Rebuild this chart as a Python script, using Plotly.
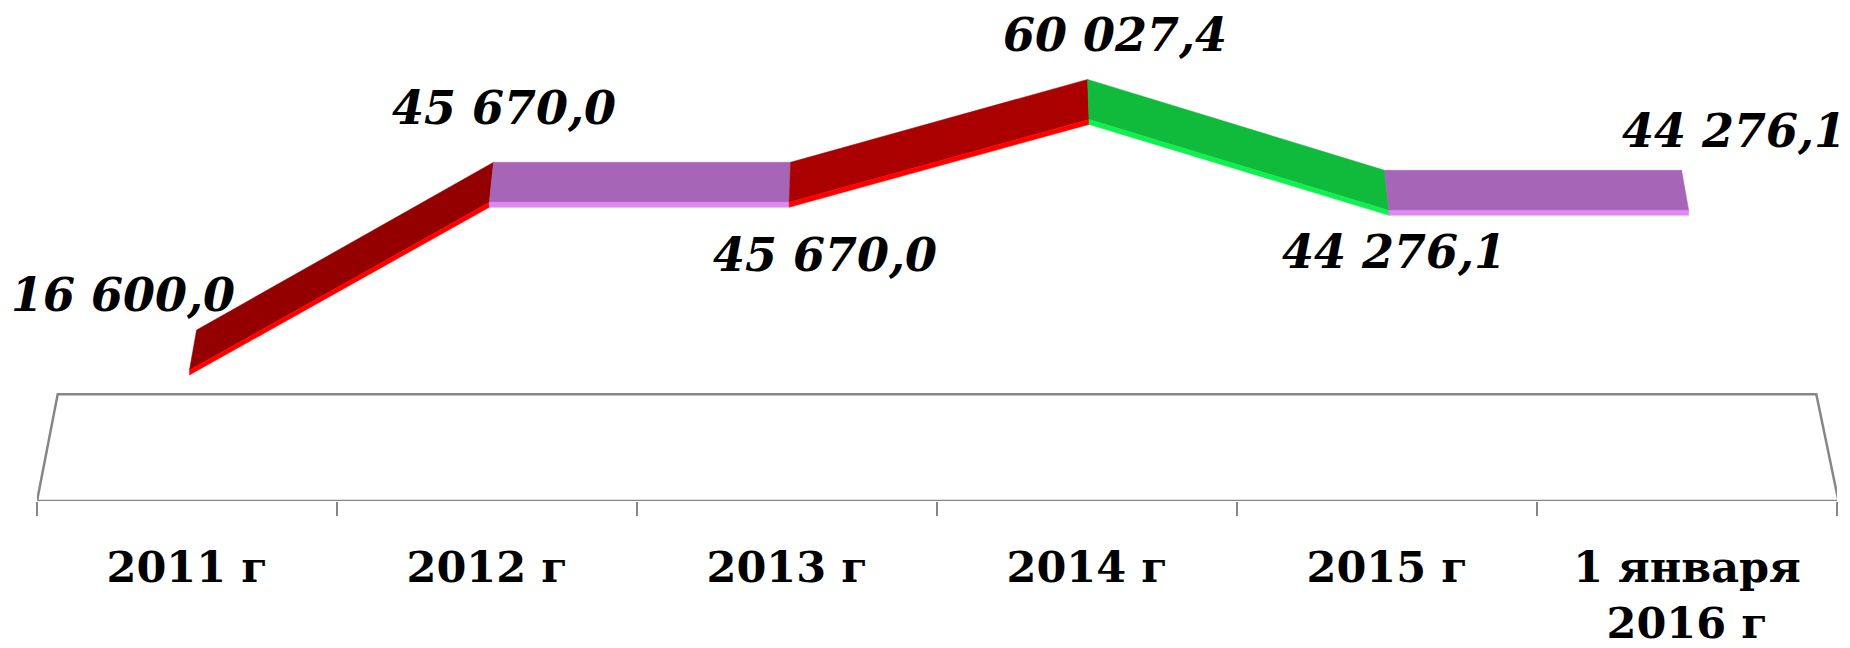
import plotly.graph_objects as go

categories = ["2011 г", "2012 г", "2013 г", "2014 г", "2015 г", "1 января<br>2016 г"]
values = [16600.0, 45670.0, 45670.0, 60027.4, 44276.1, 44276.1]
face_colors = ["#940000", "#A665B7", "#AB0000", "#10BB3C", "#A665B7"]
edge_colors = ["#FF0000", "#DF87F3", "#FF0000", "#12EF50", "#DF87F3"]
label_shifts = [(-64, 80), (17, 99), (38, -48), (28, 89), (7, -37), (47, 84)]

DEPTH = 7800
EDGE = 850
Y_RANGE = [-5237, 80203]
FLOOR_BACK = 13255
CENTER = 3.0
GREY = "#868686"
FONT = "DejaVu Serif"


def px_front(c):
    return CENTER + 0.007 + (c + 0.5 - CENTER) * 0.9995


def px_back(c):
    return CENTER + 0.007 + (c + 0.5 - CENTER) * 0.990


fig = go.Figure()

fig.add_trace(go.Scatter(
    x=[0, CENTER + (0 - CENTER) * 0.977, CENTER + (6 - CENTER) * 0.977, 6.005, 0],
    y=[Y_RANGE[0], FLOOR_BACK, FLOOR_BACK, Y_RANGE[0], Y_RANGE[0]],
    mode="lines", line=dict(color=GREY, width=2.5), cliponaxis=False,
    hoverinfo="skip", showlegend=False,
))

for i in range(len(values) - 1):
    a, b = values[i], values[i + 1]
    fx0, fx1 = px_front(i), px_front(i + 1)
    bx0, bx1 = px_back(i), px_back(i + 1)
    fig.add_trace(go.Scatter(
        x=[bx0, bx1, fx1, fx0, bx0],
        y=[a + DEPTH, b + DEPTH, b + EDGE, a + EDGE, a + DEPTH],
        mode="lines", fill="toself", fillcolor=face_colors[i],
        line=dict(width=0.5, color=face_colors[i]),
        hoverinfo="skip", showlegend=False,
    ))
    fig.add_trace(go.Scatter(
        x=[fx0, fx1, fx1, fx0, fx0],
        y=[a + EDGE, b + EDGE, b, a, a + EDGE],
        mode="lines", fill="toself", fillcolor=edge_colors[i],
        line=dict(width=0.5, color=edge_colors[i]),
        hoverinfo="skip", showlegend=False,
    ))

for i, v in enumerate(values):
    text = f"{v:,.1f}".replace(",", "\u00a0").replace(".", ",")
    dx, dy = label_shifts[i]
    fig.add_annotation(
        x=i + 0.5, y=v, text=text, showarrow=False,
        xshift=dx, yshift=dy, xanchor="center", yanchor="middle",
        font=dict(family=FONT, size=46, color="#000000", style="italic", weight="bold"),
    )

fig.update_layout(
    width=1842, height=640, autosize=False,
    margin=dict(l=28.6, r=13, t=0, b=147),
    paper_bgcolor="#FFFFFF", plot_bgcolor="#FFFFFF",
    showlegend=False,
    xaxis=dict(
        range=[0, 6], showgrid=False, zeroline=False, showline=False,
        tickmode="array", tickvals=[i + 0.5 for i in range(6)], ticktext=categories,
        ticks="", ticklabelstandoff=37,
        tickfont=dict(family=FONT, size=43, color="#000000", weight="bold"),
        minor=dict(tickmode="array", tickvals=list(range(7)), ticks="outside",
                   ticklen=14, tickwidth=1.5, tickcolor=GREY, showgrid=False),
    ),
    yaxis=dict(range=Y_RANGE, visible=False),
)

fig.write_html("out.html")
